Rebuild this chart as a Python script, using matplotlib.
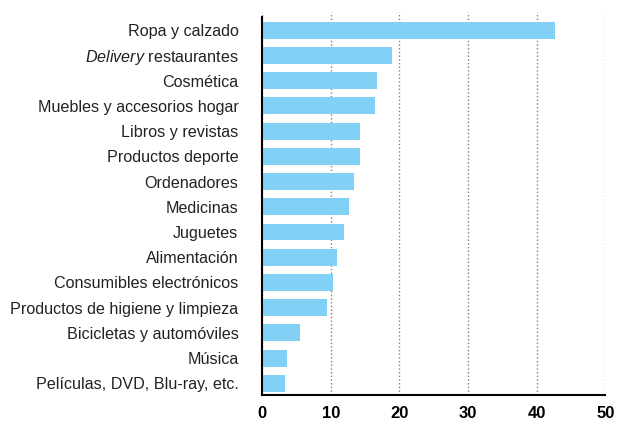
import numpy as np
import matplotlib.pyplot as plt

categories = ['Ropa y calzado', '$\\it{Delivery}$ restaurantes', 'Cosmética',
              'Muebles y accesorios hogar', 'Libros y revistas', 'Productos deporte',
              'Ordenadores', 'Medicinas', 'Juguetes', 'Alimentación',
              'Consumibles electrónicos', 'Productos de higiene y limpieza',
              'Bicicletas y automóviles', 'Música', 'Películas, DVD, Blu-ray, etc.']
values = [42.6, 19.0, 16.8, 16.5, 14.3, 14.3, 13.4, 12.6, 12.0, 10.9,
          10.4, 9.5, 5.5, 3.6, 3.35]
xticks = [0, 10, 20, 30, 40, 50]

plt.rcParams['font.family'] = ['Liberation Sans', 'DejaVu Sans']
plt.rcParams['mathtext.fontset'] = 'custom'
plt.rcParams['mathtext.it'] = 'Liberation Sans:italic'
plt.rcParams['mathtext.rm'] = 'Liberation Sans'

fig = plt.figure(figsize=(6.19, 4.21), dpi=100)
ax = fig.add_axes([0.4233, 0.0618, 0.5547, 0.909])

pos = np.arange(len(categories))
ax.barh(pos, values, height=0.67, color='#82d0f5', zorder=2)

ax.set_xlim(0, 50)
ax.set_ylim(14.46, -0.71)
ax.set_xticks(xticks)
ax.set_xticklabels([str(t) for t in xticks], fontsize=12, fontweight='bold')
ax.set_yticks(pos)
ax.set_yticklabels(categories, fontsize=11.6, color='#222222')
ax.tick_params(axis='both', length=0)
ax.tick_params(axis='y', pad=17)
ax.tick_params(axis='x', pad=8)

ax.grid(axis='x', linestyle=':', color='#808080', linewidth=1, zorder=1)
for s in ['top', 'right']:
    ax.spines[s].set_visible(False)
ax.spines['left'].set_linewidth(1.5)
ax.spines['bottom'].set_linewidth(1.5)
ax.spines['left'].set_bounds(14.46, -0.52)

fig.savefig('out.png', dpi=100)
